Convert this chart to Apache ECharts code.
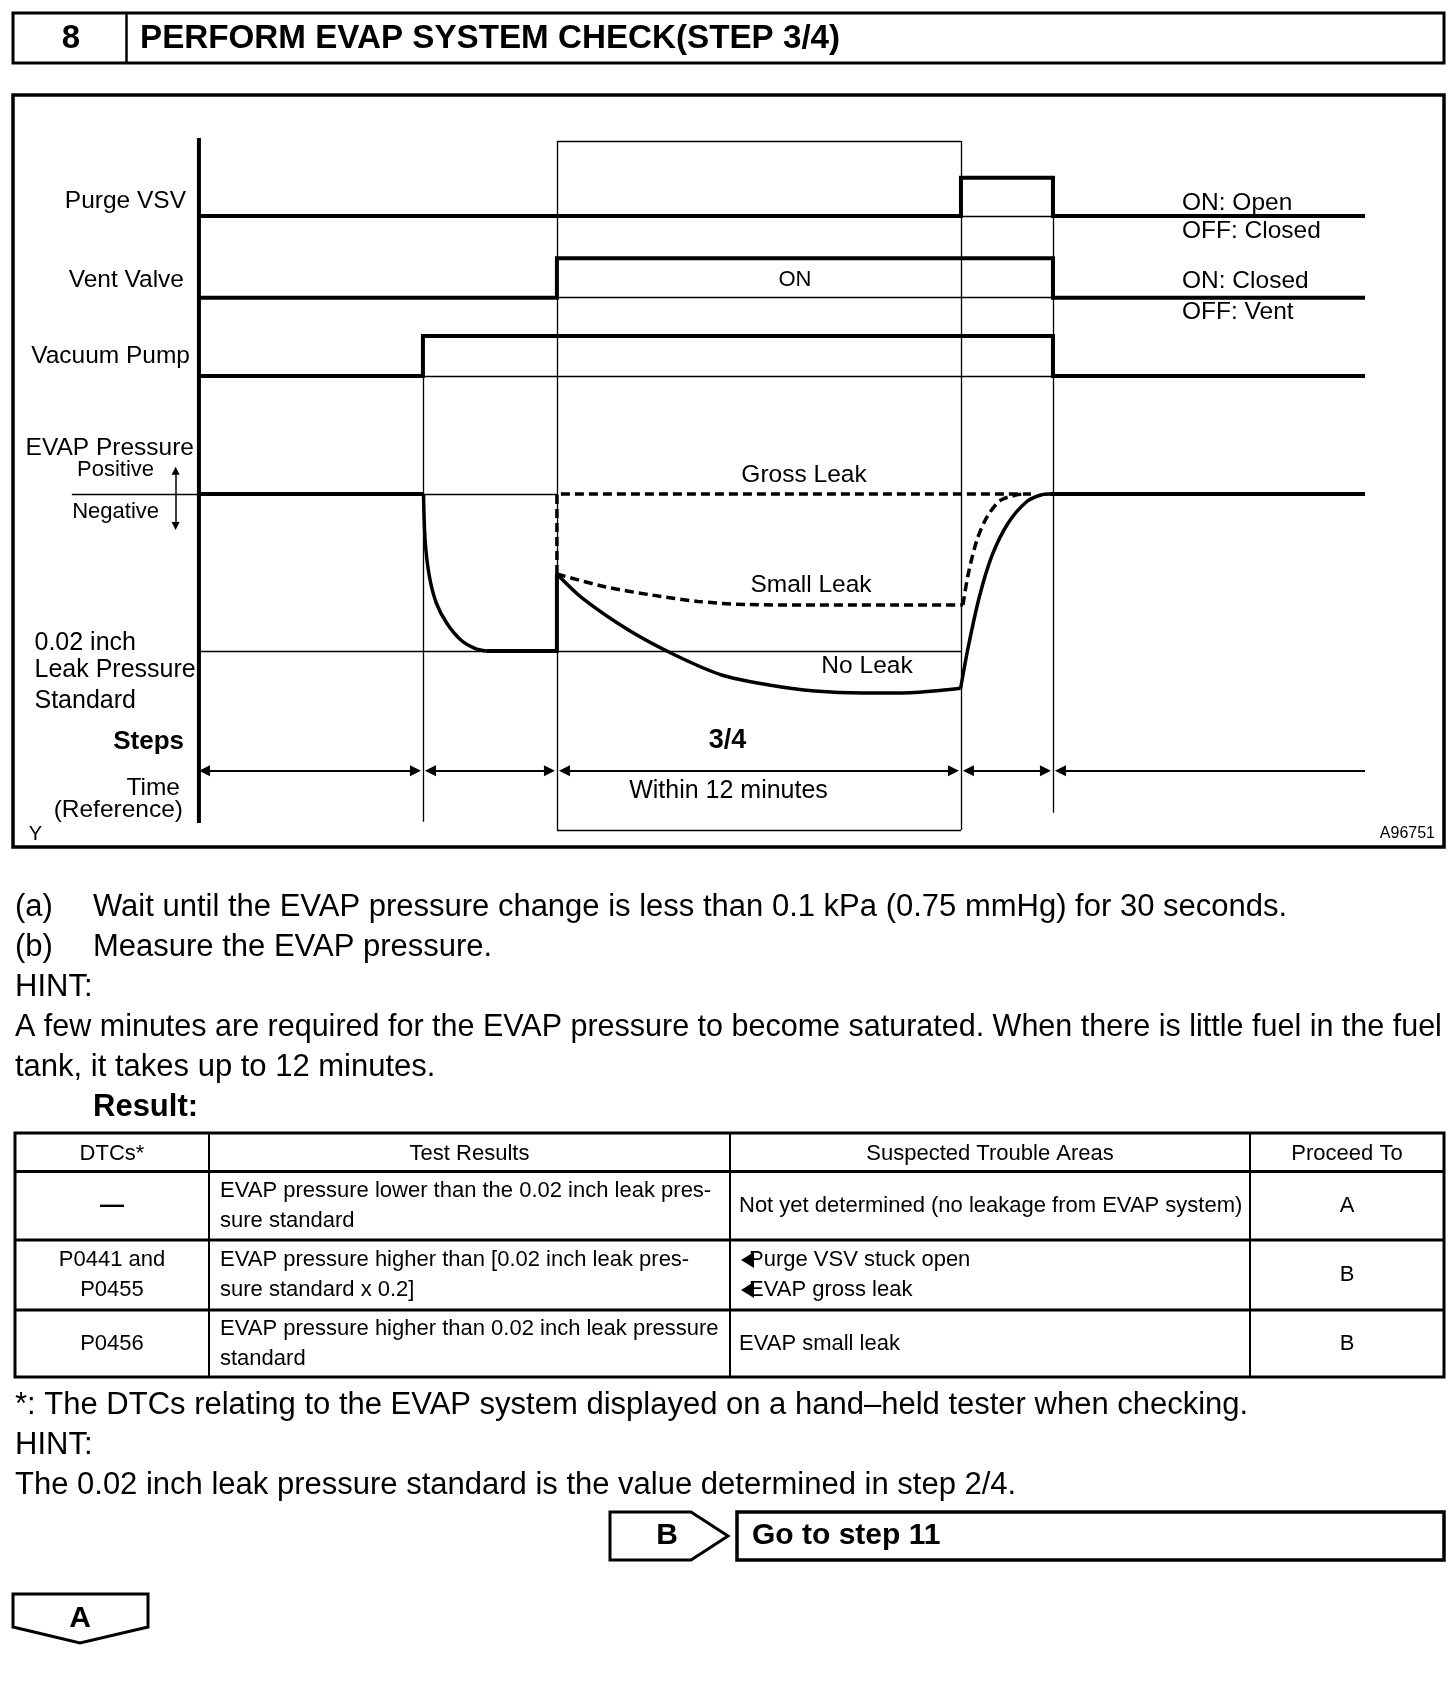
<!DOCTYPE html>
<html>
<head>
<meta charset="utf-8">
<script src="https://cdn.jsdelivr.net/npm/echarts@6/dist/echarts.min.js"></script>
<style>
html, body { margin: 0; padding: 0; background: #fff; }
#main { width: 1456px; height: 1690px; }
</style>
</head>
<body>
<div id="main"></div>
<script>
var FONT = '"Liberation Sans", Arial, Helvetica, sans-serif';

// diagram units: x = time (0 at the left axis, 100 at the right end), y = level (0 bottom .. 100 top)
var phaseX = [0, 19.21, 30.7, 65.35, 73.24, 100]; // start, pump on, vent on, purge on, all off, end

var purgeVsv = [[0, 88.86], [65.35, 88.86], [65.35, 94.33], [73.24, 94.33], [73.24, 88.86], [100, 88.86]];
var ventValve = [[0, 77.19], [30.7, 77.19], [30.7, 82.81], [73.24, 82.81], [73.24, 77.19], [100, 77.19]];
var vacuumPump = [[0, 66.0], [19.21, 66.0], [19.21, 71.71], [73.24, 71.71], [73.24, 66.0], [100, 66.0]];

var pressureZero = 49.14;
var leakStandard = 26.71;

var pressureHold = [[0, 49.14], [19.26, 49.14]];
var pumpDown = [[19.26, 49.14], [19.4, 42.5], [19.75, 37.5], [20.35, 33.6], [21.26, 30.67], [22.46, 28.29], [23.66, 27.1], [24.66, 26.71]];
var pressureFlat = [[24.66, 26.71], [30.7, 26.71], [30.7, 37.71]];
var noLeak = [[30.7, 37.71], [32.85, 34.3], [36.84, 29.71], [40.82, 26.14], [44.82, 23.29], [48.76, 21.9], [52.83, 21.0], [57.0, 20.71], [61.0, 20.76], [65.32, 21.38]];
var noLeakRecover = [[65.32, 21.38], [66.0, 27.5], [66.93, 34.47], [68.0, 40.3], [69.4, 45.0], [70.98, 48.04], [72.19, 49.0], [72.99, 49.14]];
var pressureTail = [[72.99, 49.14], [100, 49.14]];
var smallLeak = [[30.7, 37.71], [34.82, 35.9], [38.85, 34.71], [42.8, 33.8], [47.0, 33.35], [52.0, 33.29], [65.52, 33.29]];
var smallLeakRecover = [[65.52, 33.29], [65.95, 37.5], [66.72, 42.57], [67.6, 45.9], [68.8, 48.3], [70.58, 49.14]];
var grossLeak = [[30.7, 37.71], [30.7, 49.14], [71.35, 49.14]];

var arrowLevel = 9.61;
var signArrow = [[-2.0, 53.04], [-2.0, 44.0]];

var signalNames = ['Purge VSV', 'Vent Valve', 'Vacuum Pump'];
var stateNotes = ['ON: Open', 'OFF: Closed', 'ON: Closed', 'OFF: Vent'];
var curveNames = ['Gross Leak', 'Small Leak', 'No Leak'];

var bodyLines = [
  ['(a)', 'Wait until the EVAP pressure change is less than 0.1 kPa (0.75 mmHg) for 30 seconds.'],
  ['(b)', 'Measure the EVAP pressure.'],
  ['', 'HINT:'],
  ['', 'A few minutes are required for the EVAP pressure to become saturated. When there is little fuel in the fuel'],
  ['', 'tank, it takes up to 12 minutes.']
];
var tableHead = ['DTCs*', 'Test Results', 'Suspected Trouble Areas', 'Proceed To'];
var tableRows = [
  ['—', 'EVAP pressure lower than the 0.02 inch leak pres-\nsure standard', ['Not yet determined (no leakage from EVAP system)'], 'A'],
  ['P0441 and\nP0455', 'EVAP pressure higher than [0.02 inch leak pres-\nsure standard x 0.2]', ['Purge VSV stuck open', 'EVAP gross leak'], 'B'],
  ['P0456', 'EVAP pressure higher than 0.02 inch leak pressure\nstandard', ['EVAP small leak'], 'B']
];
var footLines = [
  '*: The DTCs relating to the EVAP system displayed on a hand\u2013held tester when checking.',
  'HINT:',
  'The 0.02 inch leak pressure standard is the value determined in step 2/4.'
];

var chart = echarts.init(document.getElementById('main'), null, { width: 1456, height: 1690 });

var PX_X = 11.661, PX_Y = 7;

function thick(data, extra) {
  return Object.assign({
    type: 'line', data: data, symbol: 'none', silent: true, z: 3,
    lineStyle: { color: '#000', width: 4, cap: 'butt', join: 'miter' }
  }, extra || {});
}
function curve(data, width, dashed) {
  return thick(data, {
    smooth: 0.3,
    lineStyle: { color: '#000', width: width, type: dashed ? [9, 5] : 'solid', cap: 'butt' }
  });
}
function dashedStraight(data) {
  return thick(data, { lineStyle: { color: '#000', width: 3.5, type: [9, 5], cap: 'butt' } });
}

// thin guide lines
var off = [purgeVsv[0][1], ventValve[0][1], vacuumPump[0][1]];
var boxTop = 99.57, boxBottom = 1.14;
var guides = [
  [[phaseX[3], off[0]], [phaseX[4], off[0]]],
  [[phaseX[2], off[1]], [phaseX[4], off[1]]],
  [[phaseX[1], off[2]], [phaseX[4], off[2]]],
  [[-10.9, pressureZero], [phaseX[0], pressureZero]],
  [[phaseX[1], pressureZero], [phaseX[2], pressureZero]],
  [[phaseX[0], leakStandard], [phaseX[3], leakStandard]],
  [[phaseX[1], off[2]], [phaseX[1], 2.33]],
  [[phaseX[2], boxTop], [phaseX[2], boxBottom]],
  [[phaseX[3], boxTop], [phaseX[3], boxBottom]],
  [[phaseX[4], purgeVsv[2][1]], [phaseX[4], 3.61]],
  [[phaseX[2], boxTop], [phaseX[3], boxTop]],
  [[phaseX[2], boxBottom], [phaseX[3], boxBottom]]
];

// time arrows between phase boundaries
var tipGap = 7.5 / PX_X;
var arrowSegs = [];
for (var i = 0; i < phaseX.length - 2; i++) {
  var a = phaseX[i] + (i === 0 ? 5.5 / PX_X : tipGap);
  var b = phaseX[i + 1] - tipGap;
  arrowSegs.push({ coords: [[a, arrowLevel], [b, arrowLevel]] });
}
var lastSeg = [{ coords: [[phaseX[4] + tipGap, arrowLevel], [phaseX[5], arrowLevel]] }];

var ins = 4 / PX_Y;
var signSeg = [{ coords: [[signArrow[0][0], signArrow[0][1] - ins], [signArrow[1][0], signArrow[1][1] + ins]] }];

function txt(x, y, s, size, opt) {
  return {
    type: 'text', x: x, y: y, silent: true, z: 10,
    style: Object.assign({ text: s, fill: '#000', fontFamily: FONT, fontSize: size, align: 'left', verticalAlign: 'middle' }, opt || {})
  };
}
function ln(x1, y1, x2, y2, w) {
  return { type: 'line', silent: true, z: 9, shape: { x1: x1, y1: y1, x2: x2, y2: y2 }, style: { stroke: '#000', lineWidth: w } };
}

var g = [];
// header
g.push({ type: 'rect', silent: true, z: 9, shape: { x: 13, y: 13, width: 1431, height: 50 }, style: { fill: 'none', stroke: '#000', lineWidth: 3 } });
g.push(ln(126.5, 13, 126.5, 63, 2.5));
g.push(txt(71, 38.5, '8', 33, { fontWeight: 'bold', align: 'center' }));
g.push(txt(140, 38.5, 'PERFORM EVAP SYSTEM CHECK(STEP 3/4)', 33.2, { fontWeight: 'bold' }));

// diagram frame and labels
g.push({ type: 'rect', silent: true, z: 9, shape: { x: 13, y: 95, width: 1431, height: 752 }, style: { fill: 'none', stroke: '#000', lineWidth: 3.5 } });
g.push(txt(186, 201.5, signalNames[0], 24.5, { align: 'right' }));
g.push(txt(184, 280, signalNames[1], 24.5, { align: 'right' }));
g.push(txt(190, 356, signalNames[2], 24.5, { align: 'right' }));
g.push(txt(194, 448, 'EVAP Pressure', 24.5, { align: 'right' }));
g.push(txt(154, 470, 'Positive', 22, { align: 'right' }));
g.push(txt(159, 511.5, 'Negative', 22, { align: 'right' }));
g.push(txt(34.5, 643, '0.02 inch', 25));
g.push(txt(34.5, 670, 'Leak Pressure', 25));
g.push(txt(34.5, 701.5, 'Standard', 25));
g.push(txt(184, 741.5, 'Steps', 26, { align: 'right', fontWeight: 'bold' }));
g.push(txt(180, 788, 'Time', 24.5, { align: 'right' }));
g.push(txt(183, 810, '(Reference)', 24.5, { align: 'right' }));
g.push(txt(35.5, 834, 'Y', 20, { align: 'center' }));
g.push(txt(1435, 834, 'A96751', 16, { align: 'right' }));
g.push(txt(795, 280, 'ON', 22, { align: 'center' }));
g.push(txt(1182, 203, stateNotes[0], 24.5));
g.push(txt(1182, 231, stateNotes[1], 24.5));
g.push(txt(1182, 281.5, stateNotes[2], 24.5));
g.push(txt(1182, 312.5, stateNotes[3], 24.5));
g.push(txt(804, 475, curveNames[0], 24.5, { align: 'center' }));
g.push(txt(811, 585, curveNames[1], 24.5, { align: 'center' }));
g.push(txt(867, 666.5, curveNames[2], 24.5, { align: 'center' }));
g.push(txt(727.5, 740.5, '3/4', 27, { align: 'center', fontWeight: 'bold' }));
g.push(txt(728.5, 791, 'Within 12 minutes', 25, { align: 'center' }));

// body text
var BS = 31;
var bodyY = [907.5, 947.5, 987.5, 1027.5, 1067.5];
bodyLines.forEach(function (l, k) {
  if (l[0]) {
    g.push(txt(15, bodyY[k], l[0], BS));
    g.push(txt(93, bodyY[k], l[1], BS));
  } else {
    // the long hint line has to fit the page width
    g.push(txt(15, bodyY[k], l[1], l[1].length > 90 ? 30.5 : BS));
  }
});
g.push(txt(93, 1107.5, 'Result:', BS, { fontWeight: 'bold' }));

// table
var cols = [15, 209, 730, 1250, 1444];
var rows = [1133, 1171.5, 1240, 1310, 1377];
g.push({ type: 'rect', silent: true, z: 9, shape: { x: cols[0], y: rows[0], width: cols[4] - cols[0], height: rows[4] - rows[0] }, style: { fill: 'none', stroke: '#000', lineWidth: 3 } });
for (var r = 1; r < 4; r++) g.push(ln(cols[0], rows[r], cols[4], rows[r], 3));
for (var c = 1; c < 4; c++) g.push(ln(cols[c], rows[0], cols[c], rows[4], 2));
var TS = 22;
tableHead.forEach(function (h, k) {
  g.push(txt((cols[k] + cols[k + 1]) / 2, (rows[0] + rows[1]) / 2 + 2, h, TS, { align: 'center' }));
});
tableRows.forEach(function (row, k) {
  var cy = (rows[k + 1] + rows[k + 2]) / 2;
  g.push(txt((cols[0] + cols[1]) / 2, cy, row[0], row[0] === '—' ? 24 : TS, { align: 'center', lineHeight: 30, fontWeight: row[0] === '—' ? 'bold' : 'normal' }));
  g.push(txt(cols[1] + 11, cy, row[1], TS, { lineHeight: 30 }));
  if (row[2].length > 1) {
    row[2].forEach(function (s, j) {
      var yy = cy + (j - (row[2].length - 1) / 2) * 30;
      g.push(txt(cols[2] + 19, yy, s, TS));
      g.push({ type: 'polygon', silent: true, z: 11, shape: { points: [[cols[2] + 11, yy], [cols[2] + 24, yy - 8], [cols[2] + 24, yy + 8]] }, style: { fill: '#000' } });
    });
  } else {
    g.push(txt(cols[2] + 9, cy, row[2][0], TS));
  }
  g.push(txt((cols[3] + cols[4]) / 2, cy, row[3], TS, { align: 'center' }));
});

// footnotes
var footY = [1405, 1445, 1485];
footLines.forEach(function (s, k) { g.push(txt(15, footY[k], s, BS)); });

// B box
g.push({ type: 'polygon', silent: true, z: 9, shape: { points: [[610, 1512], [691, 1512], [728, 1536], [691, 1560], [610, 1560]] }, style: { fill: '#fff', stroke: '#000', lineWidth: 3 } });
g.push(txt(667, 1536, 'B', 30, { align: 'center', fontWeight: 'bold' }));
g.push({ type: 'rect', silent: true, z: 9, shape: { x: 737, y: 1512, width: 707, height: 48 }, style: { fill: 'none', stroke: '#000', lineWidth: 3.5 } });
g.push(txt(752, 1536, 'Go to step 11', 30, { fontWeight: 'bold' }));
// A box
g.push({ type: 'polygon', silent: true, z: 9, shape: { points: [[13, 1594], [148, 1594], [148, 1627], [80, 1643], [13, 1627]] }, style: { fill: '#fff', stroke: '#000', lineWidth: 3 } });
g.push(txt(80, 1619, 'A', 30, { align: 'center', fontWeight: 'bold' }));

var option = {
  backgroundColor: '#fff',
  animation: false,
  grid: { left: 59, top: 138, width: 1306, height: 700 },
  xAxis: { type: 'value', min: -12, max: 100, show: false },
  yAxis: { type: 'value', min: 0, max: 100, show: false },
  series: [
    thick([[0, 100], [0, 2.14]]),
    thick(purgeVsv),
    thick(ventValve),
    thick(vacuumPump),
    thick(pressureHold),
    curve(pumpDown, 3.5, false),
    thick(pressureFlat),
    curve(noLeak, 3.5, false),
    curve(noLeakRecover, 3.5, false),
    thick(pressureTail),
    dashedStraight(grossLeak),
    curve(smallLeak, 3.5, true),
    curve(smallLeakRecover, 3.5, true),
    {
      type: 'lines', coordinateSystem: 'cartesian2d', silent: true, z: 2,
      lineStyle: { color: '#000', width: 1.3, opacity: 1, curveness: 0 },
      data: guides.map(function (p) { return { coords: p }; })
    },
    {
      type: 'lines', coordinateSystem: 'cartesian2d', silent: true, z: 4,
      symbol: ['triangle', 'triangle'], symbolSize: 11,
      lineStyle: { color: '#000', width: 2, opacity: 1 },
      itemStyle: { color: '#000' },
      data: arrowSegs
    },
    {
      type: 'lines', coordinateSystem: 'cartesian2d', silent: true, z: 4,
      symbol: ['triangle', 'none'], symbolSize: 11,
      lineStyle: { color: '#000', width: 2, opacity: 1 },
      itemStyle: { color: '#000' },
      data: lastSeg
    },
    {
      type: 'lines', coordinateSystem: 'cartesian2d', silent: true, z: 4,
      symbol: ['triangle', 'triangle'], symbolSize: 8,
      lineStyle: { color: '#000', width: 1.5, opacity: 1 },
      itemStyle: { color: '#000' },
      data: signSeg
    }
  ],
  graphic: { elements: g }
};
chart.setOption(option);
</script>
</body>
</html>
